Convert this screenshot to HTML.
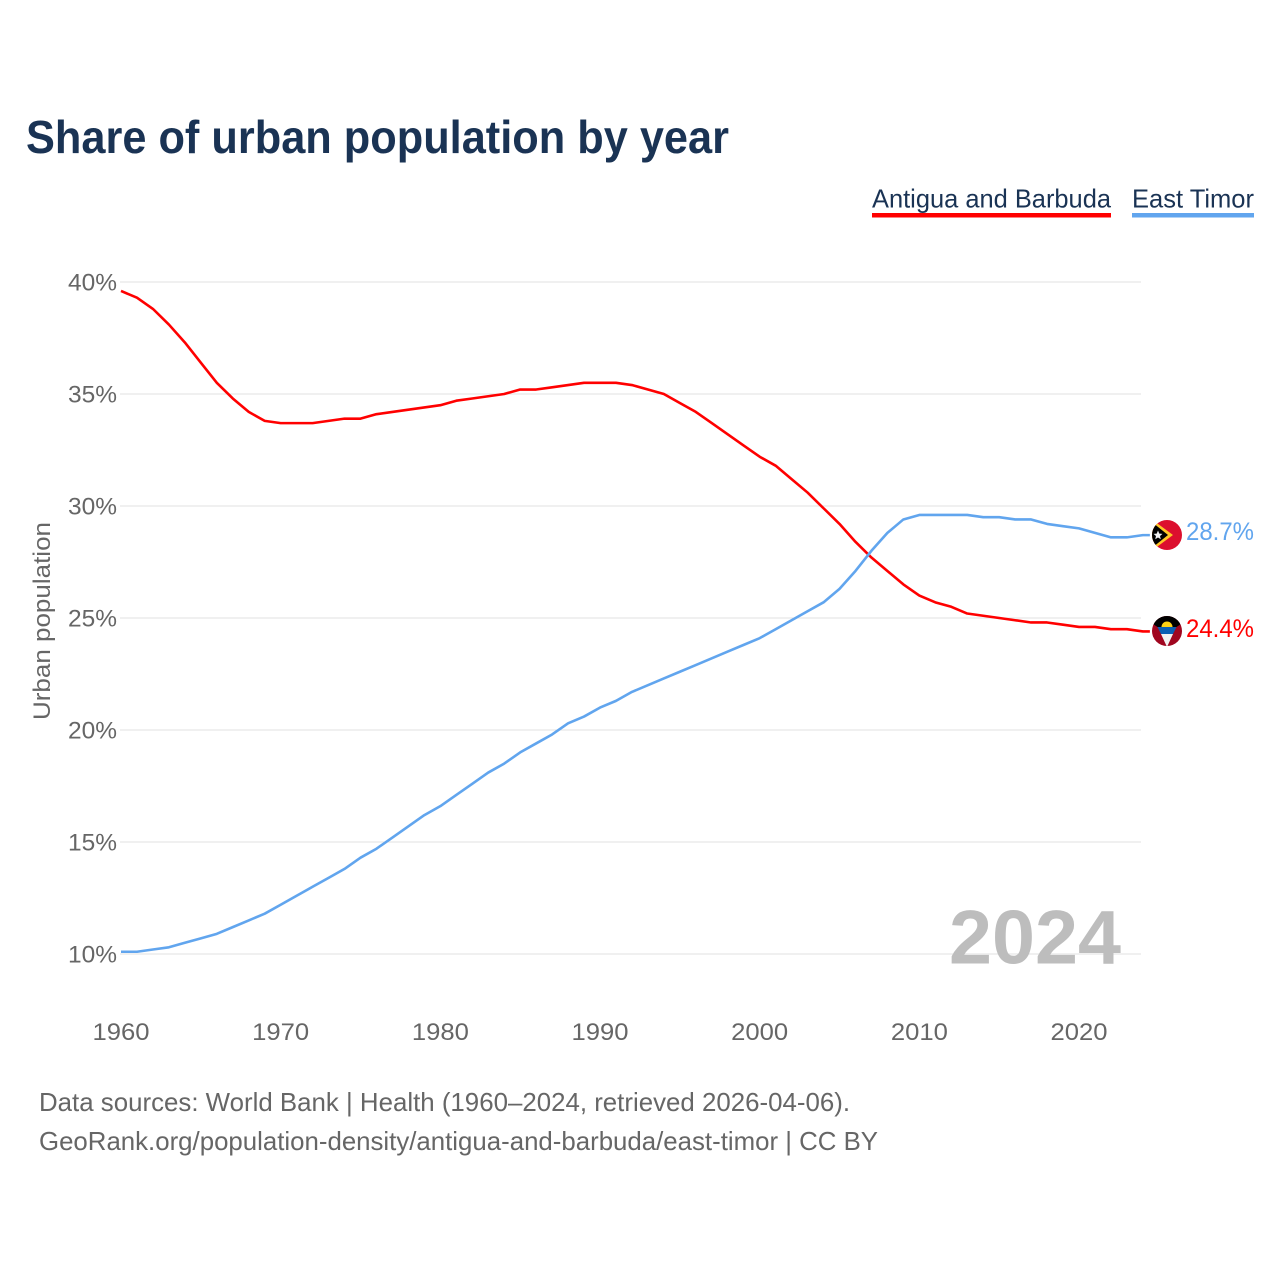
<!DOCTYPE html>
<html lang="en">
<head>
<meta charset="utf-8">
<title>Share of urban population by year</title>
<style>
html,body{margin:0;padding:0;background:#fff;}
svg{display:block;font-family:"Liberation Sans",sans-serif;}
</style>
</head>
<body>
<svg id="chart" width="1280" height="1280" viewBox="0 0 1280 1280" xmlns="http://www.w3.org/2000/svg">
  <defs>
    <clipPath id="flag-clip-tl"><circle id="clip-tl" cx="1167" cy="535" r="15"></circle></clipPath>
    <clipPath id="flag-clip-ag"><circle id="clip-ag" cx="1167" cy="631" r="15"></circle></clipPath>
  </defs>
  <rect width="1280" height="1280" fill="#ffffff"></rect>
  <text x="26" y="153" font-size="46" font-weight="700" fill="#1a3354" textLength="703" lengthAdjust="spacingAndGlyphs">Share of urban population by year</text>

  <g>
    <text x="872" y="207.5" font-size="26" fill="#1a3354" textLength="239" lengthAdjust="spacingAndGlyphs">Antigua and Barbuda</text>
    <rect x="872" y="213" width="239" height="4.5" fill="#ff0000"></rect>
    <text x="1132" y="207.5" font-size="26" fill="#1a3354" textLength="122" lengthAdjust="spacingAndGlyphs">East Timor</text>
    <rect x="1132" y="213" width="122" height="4.5" fill="#61a5ee"></rect>
  </g>

  <g id="grid"></g>
  <g id="y-labels"></g>
  <g id="x-labels"></g>

  <text transform="translate(50,621) rotate(-90)" text-anchor="middle" font-size="24" fill="#666666" textLength="198" lengthAdjust="spacingAndGlyphs">Urban population</text>

  <text x="1121" y="963.5" text-anchor="end" font-size="76" font-weight="700" fill="#bdbdbd" textLength="172" lengthAdjust="spacingAndGlyphs">2024</text>

  <g id="series"></g>

  <g id="flag-tl" clip-path="url(#flag-clip-tl)">
    <rect x="1152" y="520" width="30" height="30" fill="#dc0f2e"></rect>
    <polygon points="1150,518 1173,535 1150,552" fill="#ffc726"></polygon>
    <polygon points="1150,520.5 1168,535 1150,549.5" fill="#000000"></polygon>
    <polygon points="1158,530.5 1159.3,533.6 1162.5,533.9 1160,536 1160.8,539.3 1158,537.5 1155.2,539.3 1156,536 1153.5,533.9 1156.7,533.6" fill="#f2f2f2"></polygon>
  </g>
  <g id="flag-ag" clip-path="url(#flag-clip-ag)">
    <rect x="1152" y="616" width="30" height="30" fill="#a0061f"></rect>
    <polygon points="1150,610 1184,610 1184,622 1176.5,627 1157.5,627 1150,622" fill="#000000"></polygon>
    <path d="M1161.5 627 A5.5 5.5 0 0 1 1172.5 627 Z" fill="#fcd116"></path>
    <polygon points="1157.5,627 1176.5,627 1173,634 1161,634" fill="#0a5fb4"></polygon>
    <polygon points="1161,634 1173,634 1167,647" fill="#f2f2f2"></polygon>
  </g>

  <text id="value-east-timor" x="1186" y="540" font-size="25" fill="#61a5ee" textLength="68" lengthAdjust="spacingAndGlyphs">28.7%</text>
  <text id="value-antigua" x="1186" y="637" font-size="25" fill="#ff0000" textLength="68" lengthAdjust="spacingAndGlyphs">24.4%</text>

  <g>
    <text x="39" y="1111" font-size="26" fill="#666666" textLength="811" lengthAdjust="spacingAndGlyphs">Data sources: World Bank | Health (1960–2024, retrieved 2026-04-06).</text>
    <text x="39" y="1150" font-size="26" fill="#666666" textLength="839" lengthAdjust="spacingAndGlyphs">GeoRank.org/population-density/antigua-and-barbuda/east-timor | CC BY</text>
  </g>
</svg>
<script>
const years = [1960,1961,1962,1963,1964,1965,1966,1967,1968,1969,1970,1971,1972,1973,1974,1975,1976,1977,1978,1979,1980,1981,1982,1983,1984,1985,1986,1987,1988,1989,1990,1991,1992,1993,1994,1995,1996,1997,1998,1999,2000,2001,2002,2003,2004,2005,2006,2007,2008,2009,2010,2011,2012,2013,2014,2015,2016,2017,2018,2019,2020,2021,2022,2023,2024];
const antiguaValues = [39.6,39.3,38.8,38.1,37.3,36.4,35.5,34.8,34.2,33.8,33.7,33.7,33.7,33.8,33.9,33.9,34.1,34.2,34.3,34.4,34.5,34.7,34.8,34.9,35.0,35.2,35.2,35.3,35.4,35.5,35.5,35.5,35.4,35.2,35.0,34.6,34.2,33.7,33.2,32.7,32.2,31.8,31.2,30.6,29.9,29.2,28.4,27.7,27.1,26.5,26.0,25.7,25.5,25.2,25.1,25.0,24.9,24.8,24.8,24.7,24.6,24.6,24.5,24.5,24.4];
const eastTimorValues = [10.1,10.1,10.2,10.3,10.5,10.7,10.9,11.2,11.5,11.8,12.2,12.6,13.0,13.4,13.8,14.3,14.7,15.2,15.7,16.2,16.6,17.1,17.6,18.1,18.5,19.0,19.4,19.8,20.3,20.6,21.0,21.3,21.7,22.0,22.3,22.6,22.9,23.2,23.5,23.8,24.1,24.5,24.9,25.3,25.7,26.3,27.1,28.0,28.8,29.4,29.6,29.6,29.6,29.6,29.5,29.5,29.4,29.4,29.2,29.1,29.0,28.8,28.6,28.6,28.7];
const yTicks = [10,15,20,25,30,35,40];
const xTicks = [1960,1970,1980,1990,2000,2010,2020];

const NS = 'http://www.w3.org/2000/svg';
function xScale(year){ return 121 + (year - 1960) * (1079 - 121) / 60; }
function yScale(value){ return 954 - (value - 10) * (954 - 282) / 30; }
function make(tag, parent){
  const el = document.createElementNS(NS, tag);
  parent.appendChild(el);
  return el;
}

const grid = document.getElementById('grid');
const yLabels = document.getElementById('y-labels');
yTicks.forEach(function(t){
  const line = make('line', grid);
  
  
  line.setAttribute('x1', 120);
  line.setAttribute('x2', 1141);
  line.setAttribute('y1', yScale(t));
  line.setAttribute('y2', yScale(t));
  line.setAttribute('stroke', '#e2e2e2');
  line.setAttribute('stroke-width', '1');
  const label = make('text', yLabels);
  
  
  label.setAttribute('x', 117);
  label.setAttribute('y', yScale(t) + 8.5);
  label.setAttribute('text-anchor', 'end');
  label.setAttribute('font-size', '24');
  label.setAttribute('fill', '#666666');
  label.setAttribute('textLength', '49');
  label.setAttribute('lengthAdjust', 'spacingAndGlyphs');
  label.textContent = t + '%';
});

const xLabels = document.getElementById('x-labels');
xTicks.forEach(function(t){
  const label = make('text', xLabels);
  
  
  label.setAttribute('x', xScale(t) - 28.5);
  label.setAttribute('y', 1040);
  label.setAttribute('font-size', '24');
  label.setAttribute('fill', '#666666');
  label.setAttribute('textLength', '57');
  label.setAttribute('lengthAdjust', 'spacingAndGlyphs');
  label.textContent = t;
});

const seriesGroup = document.getElementById('series');
function drawSeries(values, color){
  const path = make('path', seriesGroup);
  
  
  const last = values[values.length - 1];
  const d = values.map(function(v, i){
    return (i ? 'L' : 'M') + xScale(years[i]).toFixed(2) + ' ' + yScale(v).toFixed(2);
  }).join(' ') + ' L' + (xScale(years[years.length - 1]) + 7).toFixed(2) + ' ' + yScale(last).toFixed(2);
  path.setAttribute('d', d);
  path.setAttribute('fill', 'none');
  path.setAttribute('stroke', color);
  path.setAttribute('stroke-width', '2.6');
  path.setAttribute('stroke-linejoin', 'round');
}
drawSeries(antiguaValues, '#ff0000');
drawSeries(eastTimorValues, '#61a5ee');
</script>
</body>
</html>
